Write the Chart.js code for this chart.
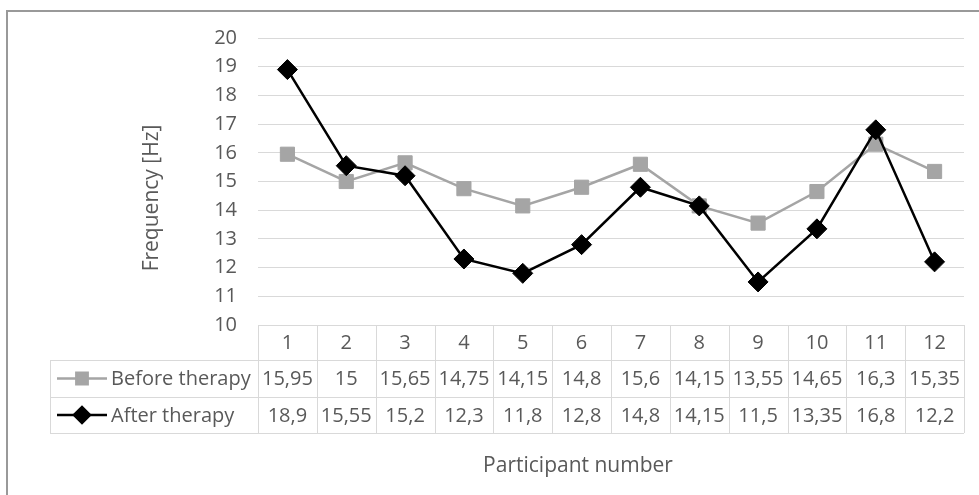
<!DOCTYPE html>
<html>
<head>
<meta charset="utf-8">
<script src="https://cdn.jsdelivr.net/npm/chart.js@4.4.1/dist/chart.umd.min.js"></script>
<style>
  html, body { margin: 0; padding: 0; background: #ffffff; }
  #wrap { position: relative; width: 979px; height: 495px; }
  canvas { display: block; }
</style>
</head>
<body>
<div id="wrap"><canvas id="c" width="979" height="495"></canvas></div>
<script>
const categories = ['1','2','3','4','5','6','7','8','9','10','11','12'];
const beforeTherapy = [15.95, 15, 15.65, 14.75, 14.15, 14.8, 15.6, 14.15, 13.55, 14.65, 16.3, 15.35];
const afterTherapy = [18.9, 15.55, 15.2, 12.3, 11.8, 12.8, 14.8, 14.15, 11.5, 13.35, 16.8, 12.2];
const seriesNames = ['Before therapy', 'After therapy'];
const yTitle = 'Frequency [Hz]';
const xTitle = 'Participant number';

const FONT = '"Open Sans", Lato, sans-serif';
const TEXT = '#595959';
const GRID = '#d9d9d9';
const GRAY = '#a5a5a5';
const fmt = v => String(v).replace('.', ',');

const tablePlugin = {
  id: 'dataTable',
  afterDraw(chart) {
    const ctx = chart.ctx;
    const x = chart.scales.x;
    const area = chart.chartArea;
    const left = area.left, right = area.right;
    const top = area.bottom;
    const rowH = [35, 37, 36];
    const y0 = top, y1 = y0 + rowH[0], y2 = y1 + rowH[1], y3 = y2 + rowH[2];
    const legendLeft = 50;
    const n = categories.length;
    const cw = (right - left) / n;
    ctx.save();
    // outer border of the chart object
    ctx.strokeStyle = '#999999';
    ctx.lineWidth = 2;
    ctx.beginPath();
    ctx.moveTo(7, 495);
    ctx.lineTo(7, 11);
    ctx.lineTo(979, 11);
    ctx.stroke();

    ctx.strokeStyle = GRID;
    ctx.lineWidth = 1;
    ctx.beginPath();
    ctx.moveTo(left, y0 + 0.5); ctx.lineTo(right, y0 + 0.5);
    ctx.moveTo(legendLeft, y1 + 0.5); ctx.lineTo(right, y1 + 0.5);
    ctx.moveTo(legendLeft, y2 + 0.5); ctx.lineTo(right, y2 + 0.5);
    ctx.moveTo(legendLeft, y3 + 0.5); ctx.lineTo(right, y3 + 0.5);
    ctx.moveTo(legendLeft + 0.5, y1); ctx.lineTo(legendLeft + 0.5, y3);
    for (let i = 0; i <= n; i++) {
      const xx = Math.round(left + i * cw) + 0.5;
      ctx.moveTo(xx, y0); ctx.lineTo(xx, y3);
    }
    ctx.stroke();

    ctx.fillStyle = TEXT;
    ctx.font = '20px ' + FONT;
    ctx.textAlign = 'center';
    ctx.textBaseline = 'middle';
    const series = [beforeTherapy, afterTherapy];
    for (let i = 0; i < n; i++) {
      const cx = x.getPixelForValue(i);
      ctx.fillText(categories[i], cx, (y0 + y1) / 2 + 1);
      ctx.fillText(fmt(series[0][i]), cx, (y1 + y2) / 2 + 1);
      ctx.fillText(fmt(series[1][i]), cx, (y2 + y3) / 2 + 1);
    }
    const keyRows = [(y1 + y2) / 2, (y2 + y3) / 2];
    chart.data.datasets.forEach((ds) => {
      const idx = seriesNames.indexOf(ds.label);
      const yy = keyRows[idx];
      ctx.strokeStyle = ds.borderColor;
      ctx.lineWidth = ds.borderWidth;
      ctx.beginPath();
      ctx.moveTo(57, yy); ctx.lineTo(107, yy);
      ctx.stroke();
      ctx.fillStyle = ds.pointBackgroundColor;
      ctx.strokeStyle = ds.pointBorderColor;
      Chart.helpers.drawPoint(ctx, { pointStyle: ds.pointStyle, radius: ds.pointRadius - 2, borderWidth: 1, rotation: 0 }, 82, yy);
      ctx.fillStyle = TEXT;
      ctx.textAlign = 'left';
      ctx.fillText(ds.label, 111, yy + 1);
    });
    // axis titles
    ctx.fillStyle = TEXT;
    ctx.textAlign = 'center';
    ctx.font = '21px ' + FONT;
    ctx.fillText(xTitle, (left + right) / 2 - 33, 466);
    ctx.save();
    ctx.translate(152, 198);
    ctx.rotate(-Math.PI / 2);
    ctx.fillText(yTitle, 0, 0);
    ctx.restore();
    ctx.restore();
  }
};

new Chart(document.getElementById('c'), {
  type: 'line',
  data: {
    labels: categories,
    datasets: [
      {
        label: seriesNames[1],
        data: afterTherapy,
        borderColor: '#000000',
        backgroundColor: '#000000',
        borderWidth: 2.5,
        pointStyle: 'rectRot',
        pointRadius: 10,
        pointHoverRadius: 10,
        pointBackgroundColor: '#000000',
        pointBorderColor: '#000000',
        pointBorderWidth: 1,
        tension: 0,
        order: 1
      },
      {
        label: seriesNames[0],
        data: beforeTherapy,
        borderColor: GRAY,
        backgroundColor: GRAY,
        borderWidth: 2.5,
        pointStyle: 'rect',
        pointRadius: 10,
        pointHoverRadius: 10,
        pointBackgroundColor: GRAY,
        pointBorderColor: GRAY,
        pointBorderWidth: 1,
        tension: 0,
        order: 2
      }
    ]
  },
  options: {
    responsive: false,
    animation: false,
    devicePixelRatio: 1,
    events: [],
    layout: { padding: { left: 0, top: 38, right: 15, bottom: 170 } },
    plugins: { legend: { display: false }, tooltip: { enabled: false }, title: { display: false } },
    scales: {
      x: {
        type: 'category',
        display: false,
        offset: true
      },
      y: {
        min: 10,
        max: 20,
        afterFit(s) { s.width = 258; },
        ticks: { stepSize: 1, color: TEXT, padding: 21, font: { family: FONT, size: 20 } },
        grid: { color: GRID, lineWidth: 1, drawTicks: false },
        border: { display: false },
        title: { display: false }
      }
    }
  },
  plugins: [tablePlugin]
});
</script>
</body>
</html>
